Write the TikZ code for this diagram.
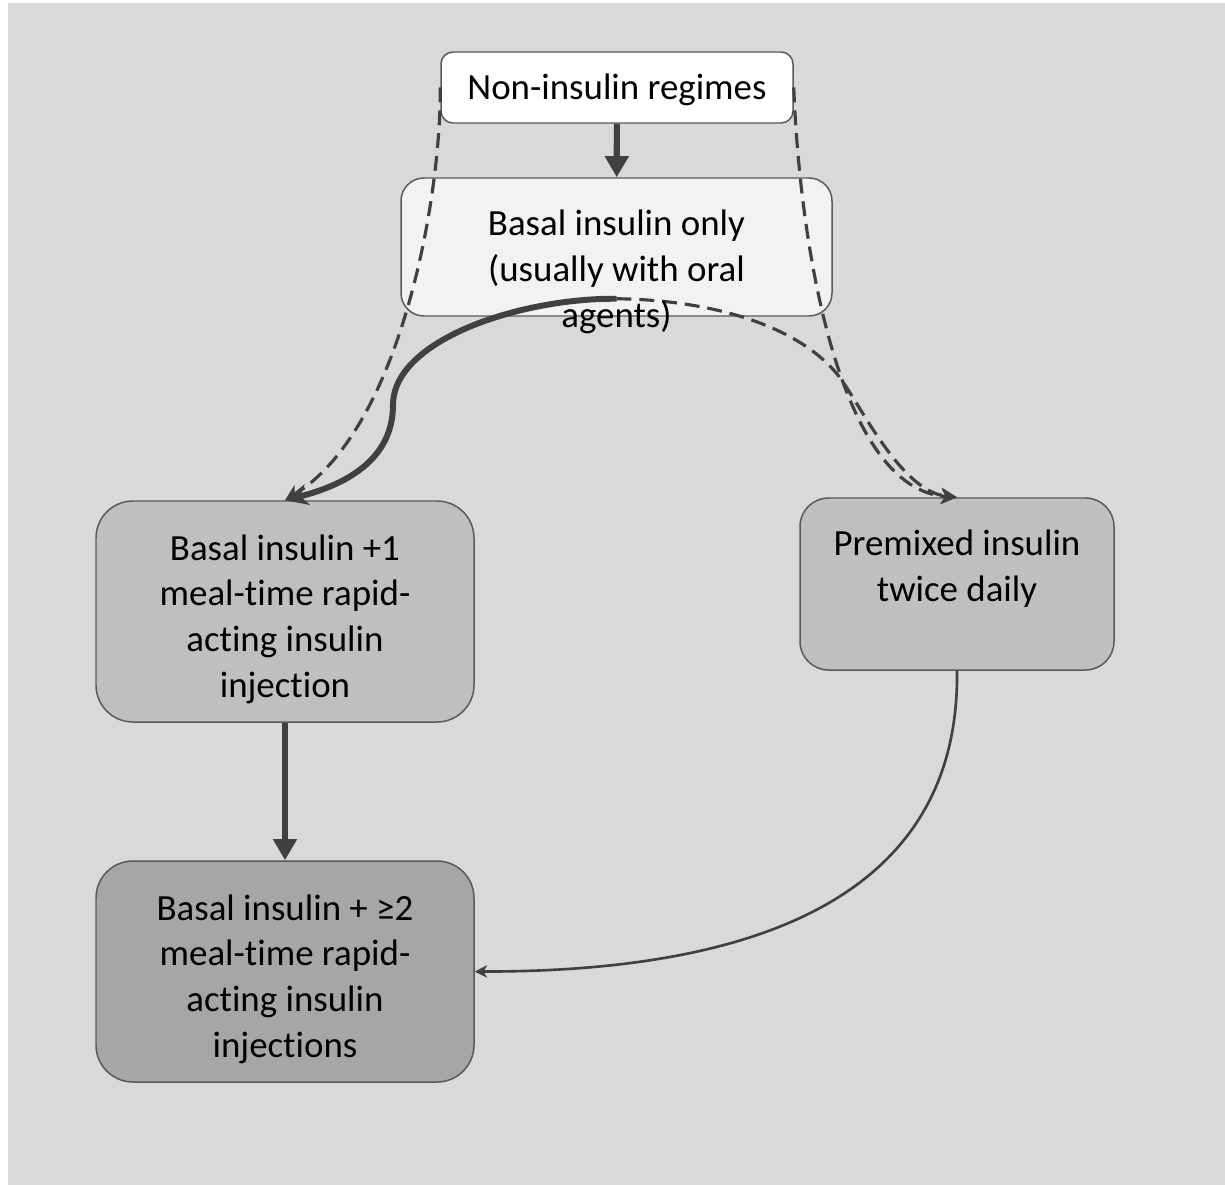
\documentclass[tikz,border=0pt]{standalone}
\usepackage{fontspec}
\setmainfont{Carlito}[Ligatures=NoCommon]
\usepackage{tikz}
\usetikzlibrary{positioning,arrows.meta}
\definecolor{hinter}{HTML}{D9D9D9}
\definecolor{rahmen}{HTML}{595959}
\definecolor{linie}{HTML}{404040}
\definecolor{hell}{HTML}{F2F2F2}
\definecolor{mittel}{HTML}{BFBFBF}
\definecolor{dunkel}{HTML}{A6A6A6}

\begin{document}
\begin{tikzpicture}[
        every node/.style={font=\fontsize{21}{26}\selectfont},
        kasten/.style={draw=rahmen, line width=0.85pt, inner sep=0pt},
        schrift/.style={align=center, inner sep=0pt, anchor=north},
        dick/.style={draw=linie, line width=3.5pt, -{Triangle[width=13pt,length=12pt]}},
        bogen/.style={draw=linie, line width=3.4pt, -{Stealth[width=12pt,length=13pt,inset=4pt]}},
        strich/.style={draw=linie, line width=1.8pt, dash pattern=on 8.5pt off 4.5pt,
                       -{Stealth[width=9pt,length=9pt,inset=2.5pt]}},
        duenn/.style={draw=linie, line width=1.5pt, -{Stealth[width=7pt,length=7pt,inset=2pt]}}
    ]
        \useasboundingbox (0,0) rectangle (24.5,-23.7);
        \fill[hinter] (0.16,-0.06) rectangle (24.5,-23.7);

        \node[kasten, fill=white, rounded corners=0.24cm, minimum width=7.04cm, minimum height=1.42cm,
              text height=0.65cm, text depth=0.15cm]
            (nonins) at (12.34,-1.75) {Non-insulin regimes};
        \node[kasten, fill=hell, rounded corners=0.46cm, minimum width=8.62cm, minimum height=2.76cm]
            (basal) at (12.33,-4.94) {};
        \node[kasten, fill=mittel, rounded corners=0.74cm, minimum width=7.56cm, minimum height=4.42cm]
            (plus1) at (5.70,-12.23) {};
        \node[kasten, fill=mittel, rounded corners=0.57cm, minimum width=6.28cm, minimum height=3.44cm]
            (premix) at (19.14,-11.68) {};
        \node[kasten, fill=dunkel, rounded corners=0.74cm, minimum width=7.56cm, minimum height=4.42cm]
            (plus2) at (5.70,-19.43) {};

        \coordinate (bq) at ([yshift=0.36cm]basal.south);

        \draw[dick] (nonins) -- (basal);
        \draw[dick] (plus1) -- (plus2);
        \draw[strich] (nonins.west) .. controls (8.82,-4.0) and (8.0,-8.6) .. (plus1.north);
        \draw[strich] (nonins.east) .. controls (16.0,-5.0) and (16.8,-9.8) .. (premix.north);
        \draw[strich] (bq) .. controls (14.4,-6.0) and (16.2,-6.6) .. (16.9,-7.7)
            .. controls (17.36,-8.4) and (18.1,-9.84) .. (premix.north);
        \draw[bogen] (bq) .. controls (10.4,-5.96) and (7.86,-6.8) .. (7.86,-8.1)
            .. controls (7.86,-9.2) and (6.9,-9.7) .. (plus1.north);
        \draw[duenn] (premix.south) .. controls (19.2,-18.0) and (15.0,-19.44) .. (plus2.east);

        \node[schrift] (basal-t)  at ([yshift=-0.65cm]basal.north)  {Basal insulin only\\(usually with oral\\agents)};
        \node[schrift] (plus1-t)  at ([yshift=-0.68cm]plus1.north)  {Basal insulin +1\\meal-time rapid-\\acting insulin\\injection};
        \node[schrift] (premix-t) at ([yshift=-0.65cm]premix.north) {Premixed insulin\\twice daily};
        \node[schrift] (plus2-t)  at ([yshift=-0.68cm]plus2.north)  {Basal insulin + ≥2\\meal-time rapid-\\acting insulin\\injections};
    \end{tikzpicture}
\end{document}
